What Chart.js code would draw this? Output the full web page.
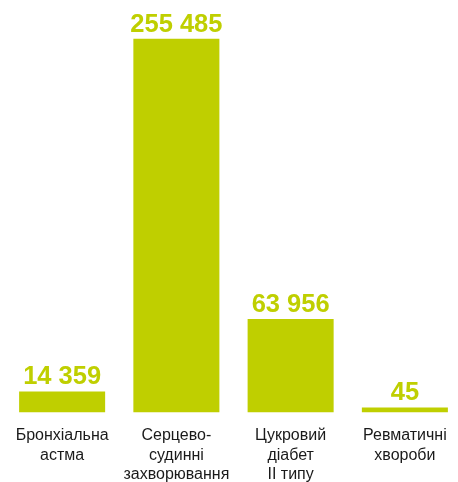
<!DOCTYPE html>
<html>
<head>
<meta charset="utf-8">
<script src="https://cdn.jsdelivr.net/npm/chart.js@4/dist/chart.umd.min.js"></script>
<style>
html,body{margin:0;padding:0;background:#fff;overflow:hidden;width:458px;height:482px;}
#wrap{width:462px;height:482px;}
</style>
</head>
<body>
<div id="wrap"><canvas id="c" width="462" height="482"></canvas></div>
<script>
const categories = [
  ["Бронхіальна", "астма"],
  ["Серцево-", "судинні", "захворювання"],
  ["Цукровий", "діабет", "II типу"],
  ["Ревматичні", "хвороби"]
];
const values = [14359, 255485, 63956, 45];
const yMax = 282000;
const barColor = "#bfcf00";

function fmt(v){
  return String(v).replace(/\B(?=(\d{3})+(?!\d))/g, " ");
}

const valueLabels = {
  id: "valueLabels",
  afterDatasetsDraw(chart){
    const ctx = chart.ctx;
    const meta = chart.getDatasetMeta(0);
    ctx.save();
    ctx.font = "bold 25.5px 'Liberation Sans', Arial, Helvetica, sans-serif";
    ctx.fillStyle = barColor;
    ctx.textAlign = "center";
    ctx.textBaseline = "alphabetic";
    meta.data.forEach((bar, i) => {
      ctx.fillText(fmt(values[i]), bar.x, bar.y - 7);
    });
    ctx.restore();
  }
};

new Chart(document.getElementById("c"), {
  type: "bar",
  data: {
    labels: categories,
    datasets: [{
      data: values,
      backgroundColor: barColor,
      borderWidth: 0,
      categoryPercentage: 1,
      barPercentage: 0.753,
      minBarLength: 5
    }]
  },
  options: {
    responsive: false,
    devicePixelRatio: 1,
    animation: false,
    layout: { padding: { left: 5, right: 0, top: 0, bottom: -16 } },
    plugins: { legend: { display: false }, tooltip: { enabled: false } },
    scales: {
      x: {
        grid: { display: false, drawTicks: false },
        border: { display: false },
        ticks: {
          color: "#1a1a1a",
          padding: 13,
          maxRotation: 0,
          autoSkip: false,
          font: { family: "'Liberation Sans', Arial, Helvetica, sans-serif", size: 16, lineHeight: 1.24 }
        }
      },
      y: {
        display: false,
        min: 0,
        max: yMax
      }
    }
  },
  plugins: [valueLabels]
});
</script>
</body>
</html>
